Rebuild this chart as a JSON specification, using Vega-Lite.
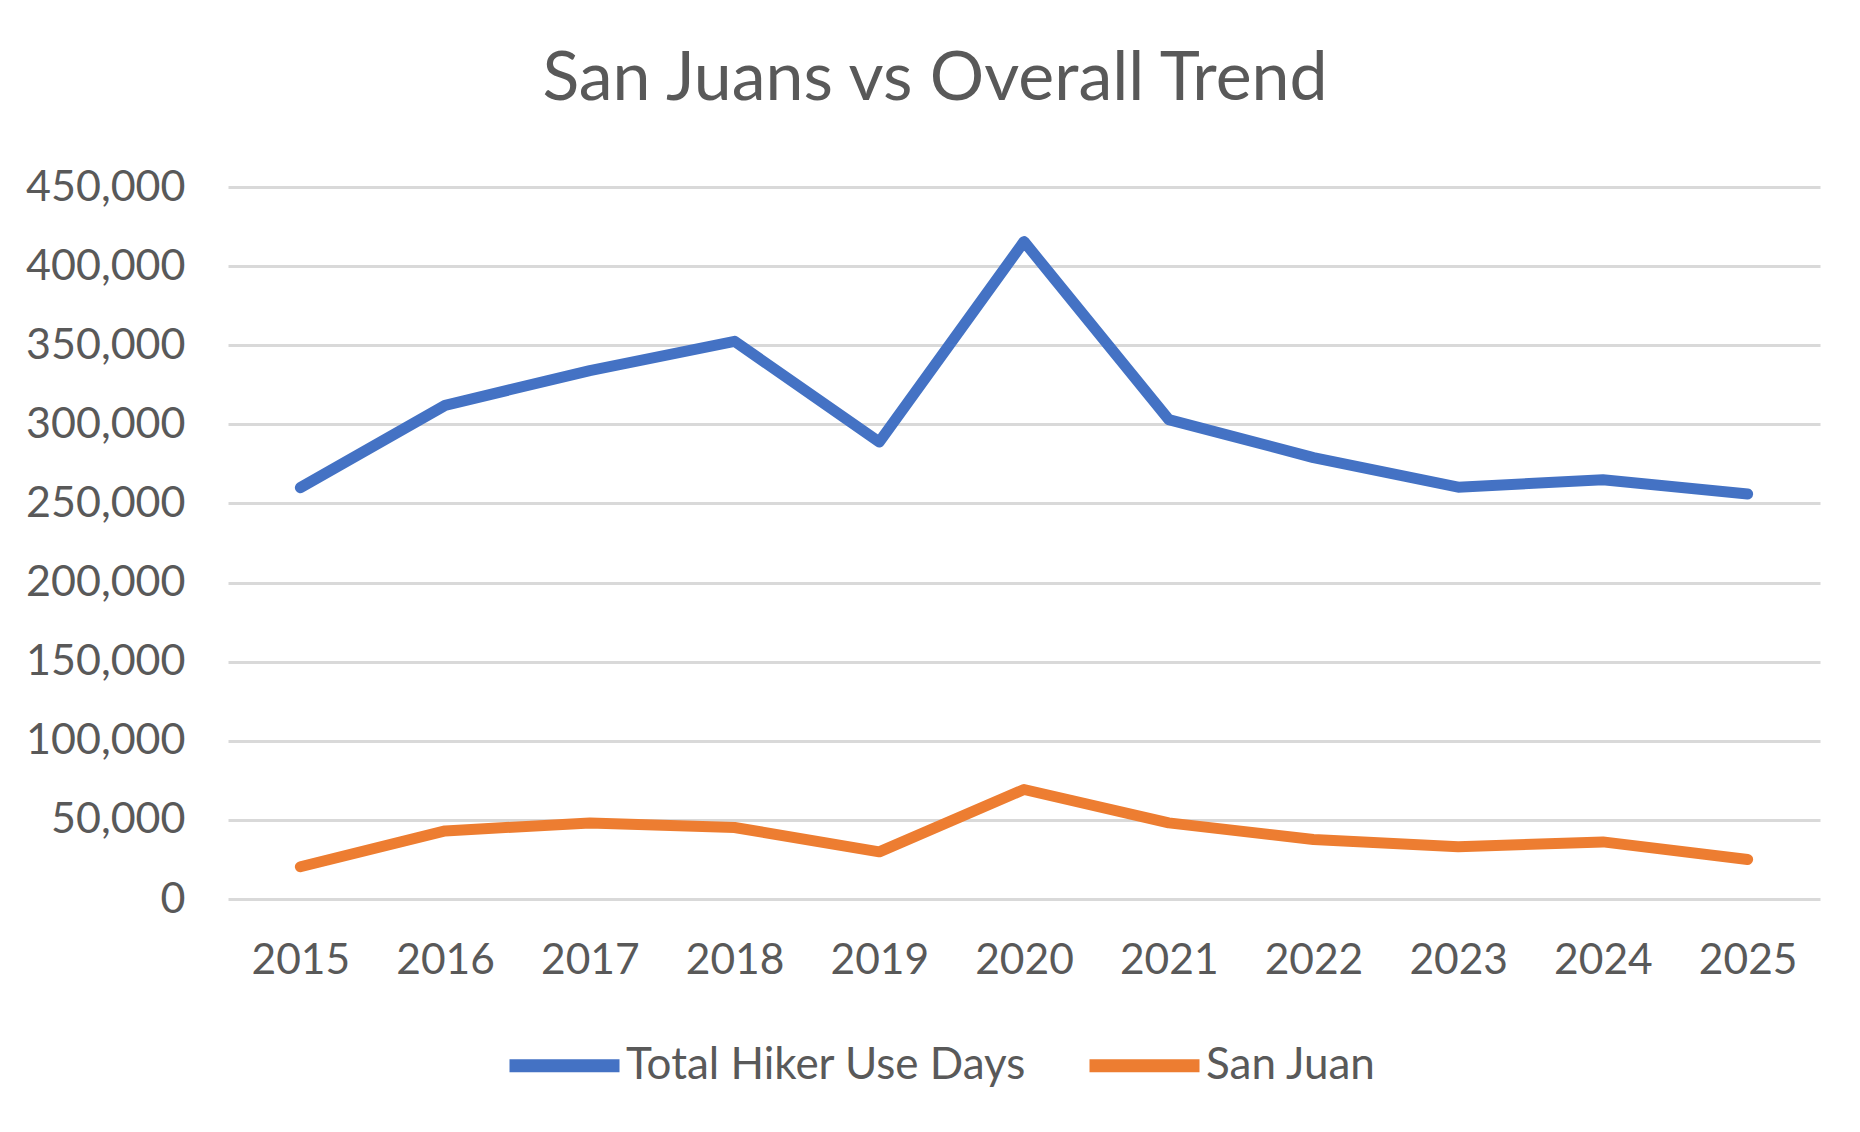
{
  "$schema": "https://vega.github.io/schema/vega-lite/v6.json",
  "description": "San Juans vs Overall Trend - hiker use days 2015-2025",
  "autosize": {"type": "none"},
  "width": 1592,
  "height": 712,
  "padding": {"left": 228, "top": 187, "right": 40, "bottom": 233},
  "background": "white",
  "title": {
    "text": "San Juans vs Overall Trend",
    "font": "Lato",
    "fontSize": 68,
    "fontWeight": "normal",
    "color": "#595959",
    "anchor": "middle",
    "dx": -89,
    "offset": 52
  },
  "data": {
    "values": [
      {"year": "2015", "series": "Total Hiker Use Days", "value": 260000},
      {"year": "2016", "series": "Total Hiker Use Days", "value": 312000},
      {"year": "2017", "series": "Total Hiker Use Days", "value": 334000},
      {"year": "2018", "series": "Total Hiker Use Days", "value": 352500},
      {"year": "2019", "series": "Total Hiker Use Days", "value": 288800},
      {"year": "2020", "series": "Total Hiker Use Days", "value": 415500},
      {"year": "2021", "series": "Total Hiker Use Days", "value": 303000},
      {"year": "2022", "series": "Total Hiker Use Days", "value": 279000},
      {"year": "2023", "series": "Total Hiker Use Days", "value": 260300},
      {"year": "2024", "series": "Total Hiker Use Days", "value": 265000},
      {"year": "2025", "series": "Total Hiker Use Days", "value": 256000},
      {"year": "2015", "series": "San Juan", "value": 20400},
      {"year": "2016", "series": "San Juan", "value": 43000},
      {"year": "2017", "series": "San Juan", "value": 48100},
      {"year": "2018", "series": "San Juan", "value": 45200},
      {"year": "2019", "series": "San Juan", "value": 29800},
      {"year": "2020", "series": "San Juan", "value": 69200},
      {"year": "2021", "series": "San Juan", "value": 48100},
      {"year": "2022", "series": "San Juan", "value": 37600},
      {"year": "2023", "series": "San Juan", "value": 33000},
      {"year": "2024", "series": "San Juan", "value": 36100},
      {"year": "2025", "series": "San Juan", "value": 25000}
    ]
  },
  "mark": {
    "type": "line",
    "strokeWidth": 11,
    "strokeCap": "round",
    "strokeJoin": "round"
  },
  "encoding": {
    "x": {
      "field": "year",
      "type": "ordinal",
      "title": null,
      "scale": {"type": "point", "padding": 0.5},
      "axis": {
        "labelAngle": 0,
        "labelFont": "Lato",
        "labelFontSize": 42.5,
        "labelColor": "#595959",
        "labelPadding": 40,
        "labelBaseline": "top",
        "ticks": false,
        "tickSize": 0,
        "domain": false,
        "grid": false
      }
    },
    "y": {
      "field": "value",
      "type": "quantitative",
      "title": null,
      "scale": {"domain": [0, 450000], "nice": false, "zero": true},
      "axis": {
        "values": [0, 50000, 100000, 150000, 200000, 250000, 300000, 350000, 400000, 450000],
        "format": ",d",
        "labelFont": "Lato",
        "labelFontSize": 43,
        "labelColor": "#595959",
        "labelPadding": 43,
        "ticks": false,
        "tickSize": 0,
        "domain": false,
        "grid": true,
        "gridColor": "#d9d9d9",
        "gridWidth": 3
      }
    },
    "color": {
      "field": "series",
      "type": "nominal",
      "sort": ["Total Hiker Use Days", "San Juan"],
      "scale": {
        "domain": ["Total Hiker Use Days", "San Juan"],
        "range": ["#4472C4", "#ED7D31"]
      },
      "legend": {
        "title": null,
        "orient": "none",
        "direction": "horizontal",
        "legendX": 275,
        "legendY": 817,
        "symbolType": "stroke",
        "symbolSize": 12100,
        "symbolStrokeWidth": 13,
        "labelFont": "Lato",
        "labelFontSize": 44,
        "labelColor": "#595959",
        "labelOffset": 0,
        "labelLimit": 600,
        "columnPadding": 36
      }
    }
  },
  "config": {
    "view": {"stroke": null}
  }
}
